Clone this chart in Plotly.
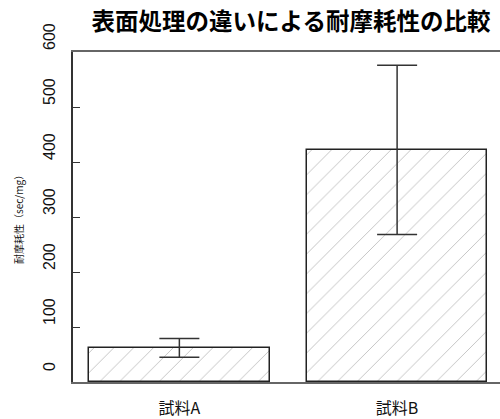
import plotly.graph_objects as go

categories = ["試料A", "試料B"]
means = [62, 422]
errors = [17, 154]
y_ticks = [0, 100, 200, 300, 400, 500, 600]
title_text = "表面処理の違いによる耐摩耗性の比較"
y_title = "耐摩耗性（sec/mg）"

x_pos = list(range(len(categories)))

fig = go.Figure(
    go.Bar(
        x=x_pos,
        y=means,
        width=0.83,
        marker=dict(
            color="white",
            line=dict(color="#222222", width=1.5),
            pattern=dict(shape="/", fgcolor="#8a8a8a", bgcolor="white", size=14, solidity=0.07),
        ),
        error_y=dict(type="data", array=errors, visible=True, color="#333333", thickness=1.5, width=20),
        showlegend=False,
    )
)

fig.update_layout(
    width=500,
    height=419,
    margin=dict(l=73, r=0, t=52, b=33),
    paper_bgcolor="white",
    plot_bgcolor="white",
    font=dict(family="Liberation Sans, Arial, Noto Sans CJK JP", color="#111111"),
    title=dict(
        text=title_text,
        x=0.582,
        xanchor="center",
        y=1 - 22 / 419,
        yanchor="middle",
        font=dict(family="Noto Sans CJK JP", size=23.5, color="#000000", weight="bold"),
    ),
    bargap=0,
)

fig.update_xaxes(
    range=[-0.4885, 1.4725],
    tickvals=x_pos,
    ticktext=categories,
    ticks="",
    showline=True,
    mirror=True,
    linecolor="#666666",
    linewidth=1.5,
    showgrid=False,
    zeroline=False,
    tickfont=dict(family="Noto Sans CJK JP", size=16, color="#111111"),
    ticklabelstandoff=11,
)

fig.update_yaxes(
    range=[0, 600],
    tickvals=y_ticks,
    ticks="inside",
    ticklen=7,
    tickcolor="#333333",
    tickwidth=1,
    showline=True,
    linecolor="#333333",
    linewidth=2,
    showgrid=False,
    zeroline=False,
    tickangle=-90,
    ticklabelshift=-13,
    ticklabelstandoff=10,
    tickfont=dict(family="Liberation Sans, Arial", size=16, color="#111111"),
)

fig.add_annotation(
    text=y_title,
    xref="paper",
    yref="paper",
    x=(18 - 73) / 427,
    y=0.5,
    xanchor="center",
    yanchor="middle",
    textangle=-90,
    showarrow=False,
    font=dict(family="Noto Sans CJK JP", size=10, color="#111111"),
)

fig.write_html("out.html")
